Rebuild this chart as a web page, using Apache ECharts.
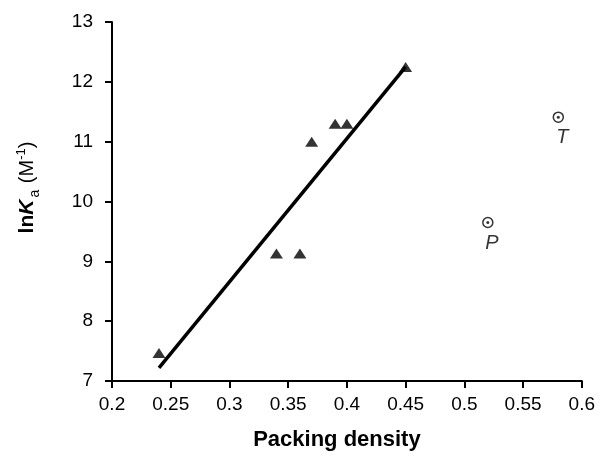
<!DOCTYPE html>
<html style="height: 100%">
<head>
    <meta charset="utf-8">
</head>
<body style="height: 100%; margin: 0; background: #fff">
<div id="packing_container" style="height: 456px;width: 598px"></div>
<script src="https://cdn.jsdelivr.net/npm/echarts@6/dist/echarts.min.js"></script>
<script type="text/javascript">
    // measured points (triangles)
    var packingX = [0.24, 0.34, 0.36, 0.37, 0.39, 0.40, 0.45];
    var lnKa = [7.47, 9.13, 9.13, 11.0, 11.3, 11.3, 12.25];
    // outliers, ring markers
    var outlierNames = ['P', 'T'];
    var outlierX = [0.52, 0.58];
    var outlierY = [9.65, 11.41];
    // regression line ends
    var fitX = [0.24, 0.45];
    var fitY = [7.22, 12.25];

    var packing_dom = document.getElementById('packing_container');
    var packing_chart = echarts.init(packing_dom);
    var ink = '#000';
    var font = 'Liberation Sans, Arial, sans-serif';

    function pairs(xs, ys) {
        return xs.map(function (x, i) { return [x, ys[i]]; });
    }

    var outlierData = outlierX.map(function (x, i) {
        return { name: outlierNames[i], value: [x, outlierY[i]] };
    });

    var packing_option = {
        backgroundColor: '#fff',
        animation: false,
        grid: { left: 112, right: 15, top: 22, bottom: 72 },
        xAxis: {
            type: 'value',
            min: 0.2, max: 0.6, interval: 0.05,
            name: 'Packing density',
            nameLocation: 'middle',
            nameGap: 48,
            nameTextStyle: {
                fontFamily: font, fontSize: 22, fontWeight: 'bold', color: ink,
                padding: [0, 20, 0, 0]
            },
            axisLine: { lineStyle: { color: ink, width: 2 } },
            axisTick: { length: 7, lineStyle: { color: ink, width: 2 } },
            axisLabel: {
                margin: 14, fontFamily: font, fontSize: 19, color: ink,
                formatter: function (v) { return +v.toFixed(2) + ''; }
            },
            splitLine: { show: false }
        },
        yAxis: {
            type: 'value',
            min: 7, max: 13, interval: 1,
            name: '{b|ln}{bi|K}{sub|a}  {n|(M}{sup|-1}{n|)}',
            nameLocation: 'middle',
            nameGap: 70,
            nameTextStyle: {
                fontFamily: font, color: ink, padding: [0, 0, 0, 28],
                rich: {
                    b: { fontFamily: font, fontSize: 21, fontWeight: 'bold', color: ink },
                    bi: { fontFamily: font, fontSize: 21, fontWeight: 'bold', fontStyle: 'italic', color: ink },
                    sub: { fontFamily: font, fontSize: 14, color: ink, padding: [16, 0, 0, 2] },
                    n: { fontFamily: font, fontSize: 20, color: ink },
                    sup: { fontFamily: font, fontSize: 13, color: ink, padding: [0, 0, 12, 0] }
                }
            },
            axisLine: { show: true, lineStyle: { color: ink, width: 2 } },
            axisTick: { show: true, length: 7, lineStyle: { color: ink, width: 2 } },
            axisLabel: { margin: 19, fontFamily: font, fontSize: 19, color: ink },
            splitLine: { show: false }
        },
        series: [
            {
                type: 'line',
                data: pairs(fitX, fitY),
                symbol: 'none',
                lineStyle: { color: ink, width: 3.5 },
                z: 2
            },
            {
                type: 'scatter',
                data: pairs(packingX, lnKa),
                symbol: 'triangle',
                symbolSize: [13, 10],
                itemStyle: { color: ink },
                z: 3
            },
            {
                type: 'scatter',
                data: outlierData,
                symbol: 'circle',
                symbolSize: 10,
                itemStyle: { color: '#fff', borderColor: ink, borderWidth: 1.5 },
                label: {
                    show: true,
                    position: 'bottom',
                    distance: 5,
                    offset: [4, 0],
                    formatter: '{b}',
                    fontFamily: font,
                    fontSize: 20,
                    fontStyle: 'italic',
                    color: ink
                },
                z: 3
            },
            {
                type: 'scatter',
                data: outlierData,
                symbol: 'circle',
                symbolSize: 3,
                itemStyle: { color: ink },
                z: 4
            }
        ]
    };

    if (packing_option && typeof packing_option === 'object') {
        packing_chart.setOption(packing_option, true);
    }
</script>
</body>
</html>
